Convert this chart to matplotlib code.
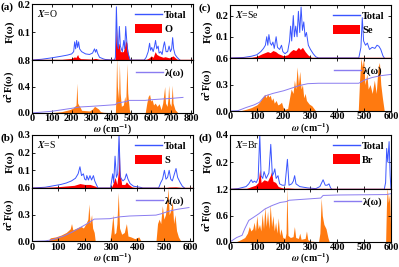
import numpy as np
import matplotlib
matplotlib.use('Agg')
import matplotlib.pyplot as plt
from matplotlib.lines import Line2D
from matplotlib.patches import Patch

plt.rcParams['font.family'] = ['Liberation Serif', 'DejaVu Serif']
plt.rcParams['font.weight'] = 'bold'
plt.rcParams['mathtext.fontset'] = 'stix'
plt.rcParams['axes.linewidth'] = 0.8

# ---- data: (omega, value) ----
# (a) X = O
a_total = [(0, 0), (50, .003), (100, .008), (150, .014), (180, .018), (200, .022), (210, .03), (215, .065),
           (220, .04), (225, .07), (230, .045), (235, .065), (240, .04), (250, .03), (270, .022), (290, .02),
           (305, .025), (315, .04), (320, .028), (325, .038), (330, .025), (340, .01), (350, .007), (360, .004),
           (370, .002), (415, 0), (420, .01), (425, .19), (430, .06), (435, .04), (440, .12), (445, .05),
           (455, .03), (462, .07), (467, .04), (472, .12), (477, .07), (482, .03), (490, .01), (495, 0),
           (565, 0), (575, .01), (585, .03), (592, .06), (597, .035), (603, .045), (610, .03), (617, .05),
           (622, .07), (628, .04), (635, .05), (640, .025), (648, .03), (655, .02), (662, .05), (667, .065),
           (675, .03), (683, .03), (690, .05), (697, .03), (703, .04), (708, .08), (713, .04), (720, .02),
           (730, .01), (740, .003), (745, 0)]
a_part = [(0, 0), (150, .002), (200, .006), (215, .012), (220, .008), (230, .02), (235, .01), (245, .005),
          (300, .003), (320, .006), (340, .002), (370, 0), (418, 0), (422, .08), (425, .125), (430, .05),
          (438, .06), (445, .03), (460, .03), (467, .05), (472, .07), (478, .06), (485, .02), (492, 0),
          (570, 0), (590, .008), (600, .015), (610, .01), (620, .03), (628, .02), (640, .015), (660, .01),
          (670, .012), (690, .008), (710, .015), (730, .003), (745, 0)]
a_a2f = [(0, 0), (100, .005), (150, .02), (190, .05), (205, .07), (215, .1), (222, .12), (226, .45), (230, .15),
         (235, .12), (240, .1), (250, .04), (290, .03), (305, .06), (315, .1), (325, .08), (335, .06), (345, .02),
         (360, .01), (420, 0), (423, .3), (426, .85), (430, .4), (436, .2), (440, .75), (444, .3), (450, .1),
         (460, .12), (467, .25), (472, .15), (478, .75), (482, .3), (490, .05), (495, 0), (570, 0), (578, .15),
         (585, .25), (592, .28), (598, .18), (605, .2), (612, .12), (620, .15), (630, .1), (640, .14), (650, .05),
         (658, .15), (668, .4), (672, .15), (680, .1), (684, .2), (688, .42), (693, .15), (700, .1), (706, .42),
         (710, .15), (720, .05), (735, 0)]
a_lam = [(0, 0), (100, .025), (200, .07), (240, .09), (300, .1), (420, .125), (428, .15), (470, .17),
         (490, .19), (570, .19), (600, .2), (700, .22), (760, .235)]

# (b) X = S
b_total = [(0, 0), (50, .004), (80, .012), (110, .02), (130, .028), (150, .04), (165, .055), (175, .08),
           (182, .12), (188, .07), (195, .08), (200, .05), (205, .045), (208, .07), (214, .045), (220, .07),
           (226, .045), (233, .07), (238, .04), (244, .02), (250, 0), (298, 0), (302, .04), (306, .08),
           (310, .03), (315, .18), (320, .06), (325, .08), (330, .3), (335, .06), (345, .04), (352, .05),
           (358, .08), (364, .05), (372, .025), (385, .01), (410, .004), (420, 0), (480, 0), (488, .03),
           (495, .05), (502, .1), (508, .05), (514, .06), (520, .1), (526, .05), (532, .04), (540, .08),
           (546, .11), (552, .06), (562, .03), (570, .01), (578, 0)]
b_part = [(0, 0), (80, .005), (120, .01), (160, .015), (182, .025), (200, .02), (220, .02), (240, .01),
          (250, 0), (300, 0), (306, .02), (315, .06), (322, .02), (328, .1), (330, .3), (333, .1), (340, .02),
          (352, .02), (358, .035), (366, .02), (380, .005), (400, 0), (500, 0), (520, .005), (545, .006),
          (578, 0)]
b_a2f = [(0, 0), (60, .005), (70, .04), (90, .05), (110, .07), (130, .1), (145, .14), (150, .2), (155, .13),
         (170, .15), (185, .17), (195, .15), (205, .2), (212, .25), (216, .42), (220, .2), (226, .3), (230, .15),
         (236, .1), (240, 0), (295, 0), (300, .1), (307, .3), (312, .08), (318, .1), (322, .2), (327, .55),
         (332, .15), (340, .08), (350, .1), (358, .2), (364, .06), (375, .05), (390, .03), (405, .05),
         (412, .01), (470, 0), (476, .2), (482, .25), (488, .2), (494, .4), (500, .25), (506, .3), (512, .45),
         (516, .6), (520, .3), (526, .35), (532, .45), (537, .2), (542, .3), (548, .12), (555, .05), (565, 0)]
b_lam = [(0, 0), (50, .005), (80, .02), (120, .06), (150, .1), (180, .15), (210, .2), (236, .25), (295, .255),
         (330, .275), (370, .285), (470, .295), (490, .31), (520, .34), (550, .36), (595, .38)]

# (c) X = Se
c_total = [(0, 0), (50, .002), (80, .008), (100, .015), (115, .03), (125, .045), (132, .06), (137, .1),
           (141, .06), (145, .11), (150, .07), (155, .06), (160, .075), (165, .045), (172, .1), (177, .05),
           (185, .04), (192, .06), (197, .03), (205, .02), (215, .03), (222, .08), (226, .15), (230, .08),
           (236, .2), (240, .1), (245, .15), (250, .1), (255, .22), (260, .12), (265, .24), (270, .13),
           (275, .17), (280, .1), (285, .12), (292, .06), (300, .04), (310, .02), (320, .005), (330, 0),
           (480, 0), (488, .05), (493, .19), (498, .08), (505, .06), (512, .07), (520, .04), (530, .05),
           (540, .045), (548, .06), (555, .055), (562, .04), (570, .01), (575, 0)]
c_part = [(0, 0), (80, .002), (100, .008), (120, .02), (130, .025), (140, .03), (150, .025), (160, .035),
          (170, .03), (180, .02), (190, .015), (200, .01), (215, .015), (225, .03), (235, .04), (245, .035),
          (255, .05), (262, .04), (270, .05), (280, .03), (290, .015), (300, .005), (310, 0)]
c_a2f = [(0, 0), (40, .005), (60, .02), (80, .04), (100, .07), (110, .1), (120, .15), (130, .19), (135, .15),
         (140, .2), (145, .16), (150, .18), (155, .12), (160, .15), (165, .09), (172, .12), (178, .07),
         (185, .08), (192, .1), (198, .04), (205, .02), (215, .03), (222, .15), (228, .25), (235, .2),
         (240, .35), (245, .25), (250, .5), (255, .3), (260, .45), (265, .25), (270, .3), (275, .15),
         (280, .2), (285, .12), (295, .08), (305, .06), (315, .02), (320, 0), (478, 0), (483, .35), (488, .6),
         (493, .5), (498, .6), (503, .3), (510, .42), (515, .25), (522, .3), (530, .2), (538, .35), (545, .2),
         (552, .5), (557, .55), (562, .3), (568, .15), (575, 0)]
c_lam = [(0, 0), (30, .005), (60, .04), (90, .07), (110, .1), (130, .17), (160, .2), (200, .23), (230, .26),
         (260, .29), (290, .31), (330, .315), (480, .315), (500, .35), (530, .38), (560, .4), (600, .415)]

# (d) X = Br
d_total = [(0, 0), (30, .005), (60, .02), (70, .04), (79, .07), (85, .05), (91, .06), (98, .05), (105, .08),
           (111, .4), (116, .1), (122, .08), (127, .13), (135, .08), (145, .12), (152, .33), (158, .1),
           (163, .12), (167, .15), (172, .08), (179, .1), (185, .04), (195, .03), (205, .03), (214, .22),
           (220, .03), (230, .04), (236, .06), (241, .1), (246, .04), (260, .02), (290, .01), (320, .005),
           (335, .02), (347, .07), (355, .03), (362, .03), (369, .04), (375, .01), (380, 0), (575, 0),
           (580, .05), (584, .3), (588, .2), (593, .35), (597, .1), (600, 0)]
d_part = [(0, 0), (60, .005), (80, .02), (95, .03), (105, .05), (111, .15), (116, .05), (127, .07),
          (140, .06), (150, .1), (155, .13), (160, .06), (170, .05), (180, .02), (200, .008), (215, .01),
          (240, .006), (260, 0)]
d_a2f = [(0, 0), (25, .01), (40, .05), (55, .1), (65, .2), (72, .35), (78, .25), (85, .3), (90, .45),
         (95, .25), (100, .6), (105, .3), (110, .4), (115, .25), (120, .65), (125, .3), (130, .8), (135, .35),
         (140, .7), (145, .3), (150, .85), (155, .35), (160, .6), (165, .25), (170, .45), (175, .2), (180, .55),
         (185, .15), (190, .3), (197, .1), (205, .08), (209, .2), (212, 1.25), (216, .15), (225, .1), (235, .12),
         (240, .35), (245, .1), (255, .08), (260, .2), (265, .06), (280, .08), (285, .25), (290, .05), (300, .02),
         (330, 0), (335, .2), (340, 1.0), (344, .6), (350, .4), (358, .3), (365, .1), (370, 0), (580, 0),
         (583, .8), (586, 1.25), (590, .9), (595, 1.1), (600, 0)]
d_lam = [(0, 0), (25, .1), (45, .15), (55, .3), (70, .49), (90, .57), (107, .64), (130, .75), (157, .83),
         (187, .9), (210, .92), (220, .95), (291, .98), (338, 1.0), (347, 1.06), (400, 1.07), (583, 1.08),
         (600, 1.1)]

panels = [
    dict(tag='(a)', el='O', total=a_total, part=a_part, a2f=a_a2f, lam=a_lam, xmax=810, xt=range(0, 801, 100),
         ftop=0.2, ft=[0.1, 0.2], amax=0.8, at=[0.0, 0.4, 0.8],
         top=(0.080, 0.775, 0.4035, 0.210), bot=(0.080, 0.577, 0.4035, 0.198)),
    dict(tag='(c)', el='Se', total=c_total, part=c_part, a2f=c_a2f, lam=c_lam, xmax=600, xt=range(0, 601, 100),
         ftop=0.25, ft=[0.1, 0.2], amax=0.6, at=[0.0, 0.3, 0.6],
         top=(0.5764, 0.783, 0.4035, 0.1985), bot=(0.5764, 0.584, 0.4035, 0.1985)),
    dict(tag='(b)', el='S', total=b_total, part=b_part, a2f=b_a2f, lam=b_lam, xmax=610, xt=range(0, 601, 100),
         ftop=0.3, ft=[0.1, 0.2, 0.3], amax=0.6, at=[0.0, 0.3, 0.6],
         top=(0.080, 0.296, 0.4035, 0.1985), bot=(0.080, 0.096, 0.4035, 0.200)),
    dict(tag='(d)', el='Br', total=d_total, part=d_part, a2f=d_a2f, lam=d_lam, xmax=600, xt=range(0, 601, 100),
         ftop=0.4, ft=[0.2, 0.4], amax=1.2, at=[0.0, 0.6, 1.2],
         top=(0.5764, 0.291, 0.4035, 0.204), bot=(0.5764, 0.094, 0.4035, 0.197)),
]

c_tot = '#3a55ff'
c_red = '#ff0000'
c_org = '#ff7a10'
c_lamc = '#8a7cf0'
fs = 7.5

fig = plt.figure(figsize=(3.99, 2.67), dpi=100)

for p in panels:
    axt = fig.add_axes(p['top'])
    axb = fig.add_axes(p['bot'])

    wt, vt = np.array(p['total']).T
    wp, vp = np.array(p['part']).T
    wa, va = np.array(p['a2f']).T
    wl, vl = np.array(p['lam']).T

    axt.fill_between(wp, 0, vp, color=c_red, lw=0)
    axt.plot(wt, vt, color=c_tot, lw=0.7)
    axt.axhline(0, color=c_red, lw=1.0)
    axt.set_xlim(0, p['xmax'])
    axt.set_ylim(0, p['ftop'])
    axt.set_yticks(p['ft'])
    axt.set_xticks(list(p['xt']))
    axt.set_xticklabels([])
    axt.set_ylabel('F(ω)', fontsize=8, fontweight='bold')
    axt.yaxis.set_label_coords(-0.105, 0.5)
    axt.text(0.03, 0.93, '$X$=' + p['el'], transform=axt.transAxes, fontsize=7, va='top', ha='left',
             fontweight='normal')
    h = [Line2D([], [], color=c_tot, lw=1.0), Patch(facecolor=c_red, edgecolor='none')]
    axt.legend(h, ['Total', p['el']], loc='upper right', frameon=False, handlelength=2.6,
               handleheight=1.0, borderaxespad=0.2, labelspacing=0.3, handletextpad=0.2,
               prop={'weight': 'bold', 'size': fs})

    axb.fill_between(wa, 0, va, color=c_org, lw=0)
    axb.plot(wl, vl, color=c_lamc, lw=0.7)
    axb.set_xlim(0, p['xmax'])
    axb.set_ylim(0, p['amax'])
    axb.set_yticks(p['at'])
    axb.set_xticks(list(p['xt']))
    axb.set_ylabel('α$^{\\mathbf{2}}$F(ω)', fontsize=7.5, fontweight='bold')
    axb.yaxis.set_label_coords(-0.095, 0.5)
    axb.set_xlabel('$\\omega$ (cm$^{-1}$)', fontsize=7, fontweight='bold')
    axb.xaxis.set_label_coords(0.5, -0.19)
    axb.legend([Line2D([], [], color=c_lamc, lw=1.0)], ['λ(ω)'], loc='upper right', frameon=False,
               handlelength=2.6, borderaxespad=0.4, handletextpad=0.2, prop={'weight': 'bold', 'size': fs})

    for ax in (axt, axb):
        ax.tick_params(direction='in', top=True, right=True, length=2.5, width=0.6, pad=1.0, labelsize=fs)
        for lab in ax.get_xticklabels() + ax.get_yticklabels():
            lab.set_fontweight('bold')

    x0 = p['top'][0]
    y1 = p['top'][1] + p['top'][3]
    fig.text(x0 - 0.078, y1 + 0.006, p['tag'], fontsize=8, fontweight='bold', va='top', ha='left')

fig.savefig('out.png', dpi=100)
